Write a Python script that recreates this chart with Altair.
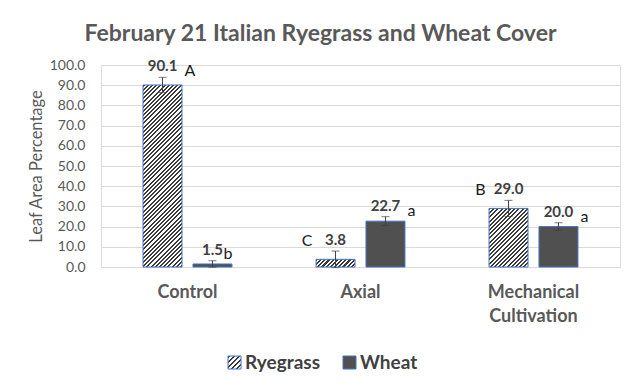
import altair as alt
import pandas as pd
import numpy as np

# ---------------- data ----------------
categories = ["Control", "Axial", "Mechanical Cultivation"]
series = ["Ryegrass", "Wheat"]
ryegrass = [90.1, 3.8, 29.0]
wheat = [1.5, 22.7, 20.0]
ryegrass_err = [3.8, 4.1, 4.0]
wheat_err = [1.6, 2.2, 1.9]
ryegrass_letters = ["A", "C", "B"]
wheat_letters = ["b", "a", "a"]
ryegrass_letter_side = ["right", "left", "left"]
wheat_letter_side = ["right", "right", "right"]
y_ticks = [0, 10, 20, 30, 40, 50, 60, 70, 80, 90, 100]

rows = []
for i, c in enumerate(categories):
    for s, vals, errs, lets, sides in [
        ("Ryegrass", ryegrass, ryegrass_err, ryegrass_letters, ryegrass_letter_side),
        ("Wheat", wheat, wheat_err, wheat_letters, wheat_letter_side),
    ]:
        rows.append({
            "category": c, "series": s, "value": vals[i],
            "lo": vals[i] - errs[i], "hi": vals[i] + errs[i],
            "label": f"{vals[i]:.1f}", "letter": lets[i], "side": sides[i],
        })
df = pd.DataFrame(rows)

# ---------------- layout / style ----------------
W, H = 519, 202
PI, PO = 0.486, 0.243
PI2 = 0.22
FONT = "Lato"
GRID = "#d9d9d9"
TXT = "#595959"
DARK = "#404040"
BLUE = "#4472C4"
WHEAT_FILL = "#505050"

step = W / (len(categories) - PI + 2 * PO)
band = step * (1 - PI)
step2 = band / (len(series) - PI2)
bar_w = step2 * (1 - PI2)


def hatch(w, h, period=4.2, dark="#3a3a3a", light="#ffffff"):
    L = w + h
    k = L / (w * w + h * h)
    stops = []
    n = int(np.ceil(L / period))
    for i in range(n):
        a = i * period / L
        b = min((i + 0.5) * period / L, 1.0)
        c = min((i + 1) * period / L, 1.0)
        stops += [
            {"offset": a, "color": dark}, {"offset": b, "color": dark},
            {"offset": b, "color": light}, {"offset": c, "color": light},
        ]
    return {"gradient": "linear", "x1": 0, "y1": 0,
            "x2": w * k, "y2": h * k, "stops": stops}


X = alt.X("category:N", sort=categories,
          scale=alt.Scale(domain=categories, paddingInner=PI, paddingOuter=PO),
          axis=alt.Axis(title=None, labelAngle=0, ticks=False, domainColor=GRID,
                        labelFont=FONT, labelFontSize=18, labelFontWeight="bold",
                        labelColor=TXT, labelPadding=16, labelBaseline="top",
                        labelLineHeight=24,
                        labelExpr="split(datum.label, ' ')"))
XO = alt.XOffset("series:N", sort=series,
                 scale=alt.Scale(domain=series, paddingInner=PI2, paddingOuter=0))
YS = alt.Scale(domain=[0, 100], nice=False)
YAX = alt.Axis(values=y_ticks, format=".1f",
               domain=False, ticks=False, gridColor=GRID,
               labelFont=FONT, labelFontSize=14, labelColor=TXT,
               labelPadding=16, labelOverlap=False,
               title="Leaf Area Percentage", titleFont=FONT,
               titleFontSize=16.5, titleFontWeight="normal",
               titleColor=TXT, titleX=-65,
               titleAngle=270, titleAlign="center",
               titleBaseline="middle")


def yenc(field):
    return alt.Y(f"{field}:Q", scale=YS, axis=YAX, title="Leaf Area Percentage")


base = alt.Chart(df).encode(x=X, xOffset=XO)

layers = []
# wheat bars
layers.append(base.transform_filter(alt.datum.series == "Wheat")
              .mark_bar(fill=WHEAT_FILL, stroke=BLUE, strokeWidth=1)
              .encode(y=yenc("value")))
# hatched ryegrass bars (one layer per bar so the hatch stays at 45 degrees)
for c, v in zip(categories, ryegrass):
    h = v / 100 * H
    layers.append(base.transform_filter(
        (alt.datum.series == "Ryegrass") & (alt.datum.category == c))
        .mark_bar(fill=hatch(bar_w, h), stroke=BLUE, strokeWidth=1)
        .encode(y=yenc("value")))

# error bars
layers.append(base.mark_rule(color=DARK, strokeWidth=1)
              .encode(y=yenc("lo"), y2="hi:Q"))
layers.append(base.mark_tick(orient="horizontal", size=8, thickness=1, color=DARK)
              .encode(y=yenc("hi")))
layers.append(base.mark_tick(orient="horizontal", size=8, thickness=1, color=DARK)
              .encode(y=yenc("lo")))

# value labels
layers.append(base.mark_text(font=FONT, fontSize=15, fontWeight="bold",
                             color=DARK, baseline="bottom", dy=-3)
              .encode(y=yenc("hi"), text="label:N"))

# significance letters
layers.append(base.transform_filter(
    (alt.datum.side == "right") & (alt.expr.length(alt.datum.label) >= 4))
    .mark_text(font=FONT, fontSize=16, color="#1a1a1a", baseline="bottom",
               align="left", dx=22, dy=2)
    .encode(y=yenc("hi"), text="letter:N"))
layers.append(base.transform_filter(
    (alt.datum.side == "right") & (alt.expr.length(alt.datum.label) < 4))
    .mark_text(font=FONT, fontSize=16, color="#1a1a1a", baseline="bottom",
               align="left", dx=11, dy=1)
    .encode(y=yenc("hi"), text="letter:N"))
layers.append(base.transform_filter(alt.datum.side == "left")
              .mark_text(font=FONT, fontSize=16, color="#1a1a1a", baseline="bottom",
                         align="right", dx=-23, dy=-2)
              .encode(y=yenc("hi"), text="letter:N"))

# custom legend (hatched swatch cannot be drawn by the built-in legend)
leg = pd.DataFrame({"series": series})
sw = 13
leg_x = [127, 242]
leg_y = 291
for i, s in enumerate(series):
    d = alt.Chart(leg[leg.series == s])
    fill = hatch(sw, sw, period=5.0) if s == "Ryegrass" else WHEAT_FILL
    layers.append(d.mark_rect(fill=fill, stroke=BLUE, strokeWidth=1)
                  .encode(x=alt.value(leg_x[i]), x2=alt.value(leg_x[i] + sw),
                          y=alt.value(leg_y), y2=alt.value(leg_y + sw)))
    layers.append(d.mark_text(font=FONT, fontSize=19, fontWeight="bold",
                              color=DARK, align="left", baseline="middle")
                  .encode(x=alt.value(leg_x[i] + sw + 4),
                          y=alt.value(leg_y + sw / 2 + 0.5), text="series:N"))

chart = alt.layer(*layers).properties(
    width=W, height=H,
    padding={"left": 93, "top": 57, "right": 12, "bottom": 116},
    autosize=alt.AutoSizeParams(type="none"),
    title=alt.TitleParams("February 21 Italian Ryegrass and Wheat Cover",
                          font=FONT, fontSize=23, fontWeight="bold",
                          color=TXT, anchor="middle", dx=-40,
                          baseline="alphabetic", offset=28, dy=34),
).configure_view(stroke=None).configure(background="white")

chart.save("out.html", embed_options={"renderer": "svg", "actions": False})
